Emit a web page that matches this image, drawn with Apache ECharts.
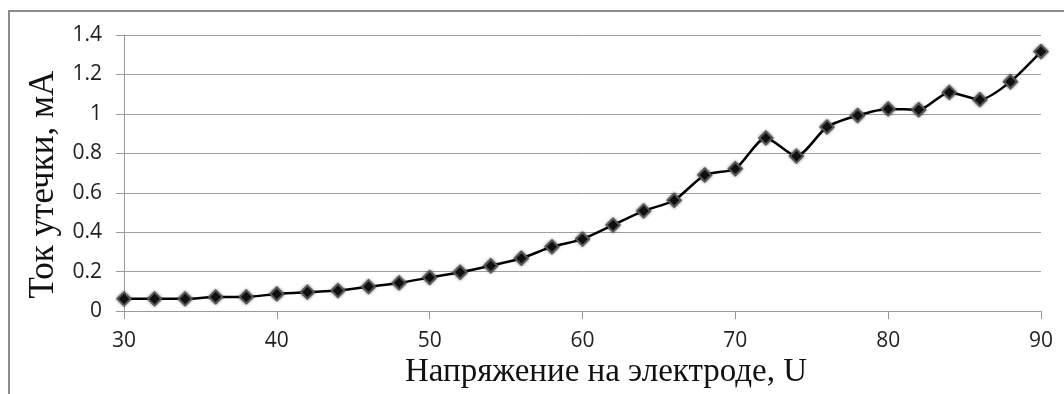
<!DOCTYPE html>
<html>
<head>
<meta charset="utf-8">
<script src="https://cdn.jsdelivr.net/npm/echarts@6/dist/echarts.min.js"></script>
<style>html,body{margin:0;padding:0;background:#fff}#c{width:1064px;height:394px}</style>
</head>
<body>
<div id="c"></div>
<script>
const voltages = [30,32,34,36,38,40,42,44,46,48,50,52,54,56,58,60,62,64,66,68,70,72,74,76,78,80,82,84,86,88,90];
const current = [0.062,0.062,0.062,0.072,0.072,0.087,0.096,0.104,0.124,0.143,0.17,0.197,0.23,0.268,0.326,0.365,0.436,0.508,0.562,0.69,0.722,0.878,0.786,0.934,0.992,1.025,1.021,1.109,1.072,1.163,1.316];
const xTitle = 'Напряжение на электроде, U';
const yTitle = 'Ток утечки, мА';

const chart = echarts.init(document.getElementById('c'), null, {renderer: 'canvas'});
chart.setOption({
  animation: false,
  backgroundColor: '#fff',
  grid: {left: 124, right: 23, top: 35, bottom: 82, containLabel: false},
  graphic: [{
    type: 'polyline',
    shape: {points: [[9, 394], [9, 11], [1064, 11]]},
    style: {stroke: '#8c8c8c', lineWidth: 2, fill: null},
    silent: true
  }],
  xAxis: {
    type: 'value', min: 30, max: 90, interval: 10,
    name: xTitle, nameLocation: 'middle', nameGap: 41,
    nameTextStyle: {fontFamily: 'Liberation Serif', fontSize: 33, color: '#111', padding: [0, 0, 0, 47]},
    axisLine: {show: true, lineStyle: {color: '#9a9a9a', width: 1}},
    axisTick: {show: true, inside: false, length: 8, lineStyle: {color: '#9a9a9a'}},
    axisLabel: {fontFamily: 'Open Sans', fontSize: 21, color: '#222', margin: 19},
    splitLine: {show: false}
  },
  yAxis: {
    type: 'value', min: 0, max: 1.4, interval: 0.2,
    name: yTitle, nameLocation: 'middle', nameGap: 62,
    nameTextStyle: {fontFamily: 'Liberation Serif', fontSize: 35, color: '#111', padding: [0, 23, 0, 0]},
    axisLine: {show: true, lineStyle: {color: '#9a9a9a', width: 1}},
    axisTick: {show: true, inside: false, length: 8, lineStyle: {color: '#9a9a9a'}},
    axisLabel: {fontFamily: 'Open Sans', fontSize: 21, color: '#222', margin: 22},
    splitLine: {show: true, lineStyle: {color: '#a0a0a0', width: 1}}
  },
  series: [{
    type: 'line',
    data: voltages.map((v, i) => [v, current[i]]),
    smooth: 0.25,
    symbol: 'diamond',
    symbolSize: 13,
    lineStyle: {color: '#000', width: 2.5},
    itemStyle: {color: '#111', borderColor: '#555', borderWidth: 2, shadowBlur: 3, shadowColor: 'rgba(0,0,0,0.5)'}
  }]
});
</script>
</body>
</html>
